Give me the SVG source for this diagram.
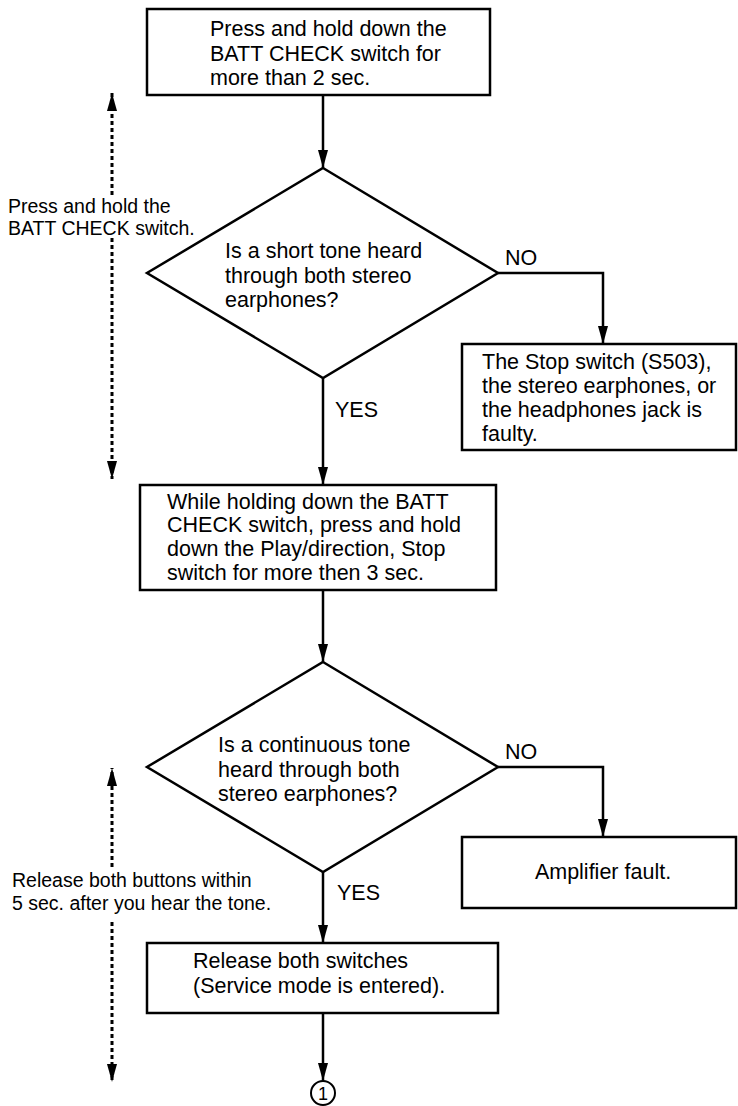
<svg xmlns="http://www.w3.org/2000/svg" width="738" height="1106" viewBox="0 0 738 1106">
<style>
.t{font-family:"Liberation Sans",Arial,sans-serif;font-size:21.5px;fill:#000}
.s{font-family:"Liberation Sans",Arial,sans-serif;font-size:19.5px;fill:#000}
.box{fill:#fff;stroke:#000;stroke-width:2.5}
.ln{fill:none;stroke:#000;stroke-width:2.5}
.dot{fill:none;stroke:#000;stroke-width:3;stroke-dasharray:4 3}
</style>
<defs>
<marker id="ah" markerUnits="userSpaceOnUse" viewBox="0 0 18 10" markerWidth="18" markerHeight="10" refX="18" refY="5" orient="auto">
<path d="M0,0 L18,5 L0,10 z" fill="#000"/>
</marker>
</defs>
<rect width="738" height="1106" fill="#fff"/>
<g id="connectors">
<path class="ln" d="M323,95 V168" marker-end="url(#ah)"/>
<path class="ln" d="M323,378 V485" marker-end="url(#ah)"/>
<path class="ln" d="M323,590 V662" marker-end="url(#ah)"/>
<path class="ln" d="M323,872 V943" marker-end="url(#ah)"/>
<path class="ln" d="M323,1013 V1081" marker-end="url(#ah)"/>
<path class="ln" d="M498,273 H603 V344" marker-end="url(#ah)"/>
<path class="ln" d="M498,767 H603 V837" marker-end="url(#ah)"/>
<text class="t" x="505" y="265">NO</text>
<text class="t" x="505" y="759">NO</text>
<text class="t" x="335" y="417">YES</text>
<text class="t" x="337" y="900">YES</text>
</g>
<g id="hold-range">
<path class="dot" d="M112,195 V93" marker-end="url(#ah)"/>
<path class="dot" d="M112,238 V479" marker-end="url(#ah)"/>
<text class="s" x="8" y="213">Press and hold the</text>
<text class="s" x="8" y="235">BATT CHECK switch.</text>
</g>
<g id="release-range">
<path class="dot" d="M112,867 V768" marker-end="url(#ah)"/>
<path class="dot" d="M112,922 V1082" marker-end="url(#ah)"/>
<text class="s" x="12" y="887">Release both buttons within</text>
<text class="s" x="12" y="910">5 sec. after you hear the tone.</text>
</g>
<g id="step1">
<rect class="box" x="147" y="9" width="343" height="86"/>
<text class="t" x="210" y="36">Press and hold down the</text>
<text class="t" x="210" y="61">BATT CHECK switch for</text>
<text class="t" x="210" y="85">more than 2 sec.</text>
</g>
<g id="decision1">
<polygon class="box" points="323,168 498,273 323,378 147,273"/>
<text class="t" x="225" y="258">Is a short tone heard</text>
<text class="t" x="225" y="283">through both stereo</text>
<text class="t" x="225" y="307">earphones?</text>
</g>
<g id="fault1">
<rect class="box" x="462" y="344" width="274" height="106"/>
<text class="t" x="482" y="369">The Stop switch (S503),</text>
<text class="t" x="482" y="393">the stereo earphones, or</text>
<text class="t" x="482" y="417">the headphones jack is</text>
<text class="t" x="482" y="441">faulty.</text>
</g>
<g id="step2">
<rect class="box" x="140" y="485" width="356" height="105"/>
<text class="t" x="167" y="509">While holding down the BATT</text>
<text class="t" x="167" y="532">CHECK switch, press and hold</text>
<text class="t" x="167" y="556">down the Play/direction, Stop</text>
<text class="t" x="167" y="580">switch for more then 3 sec.</text>
</g>
<g id="decision2">
<polygon class="box" points="323,662 498,767 323,872 147,767"/>
<text class="t" x="218" y="752">Is a continuous tone</text>
<text class="t" x="218" y="777">heard through both</text>
<text class="t" x="218" y="801">stereo earphones?</text>
</g>
<g id="fault2">
<rect class="box" x="462" y="837" width="274" height="71"/>
<text class="t" x="603" y="879" text-anchor="middle">Amplifier fault.</text>
</g>
<g id="step3">
<rect class="box" x="147" y="943" width="351" height="70"/>
<text class="t" x="193" y="968">Release both switches</text>
<text class="t" x="193" y="993">(Service mode is entered).</text>
</g>
<g id="connector-1">
<circle cx="323" cy="1093" r="12" fill="#fff" stroke="#000" stroke-width="2"/>
<text class="t" x="323" y="1100" text-anchor="middle" style="font-size:18px">1</text>
</g>
</svg>
